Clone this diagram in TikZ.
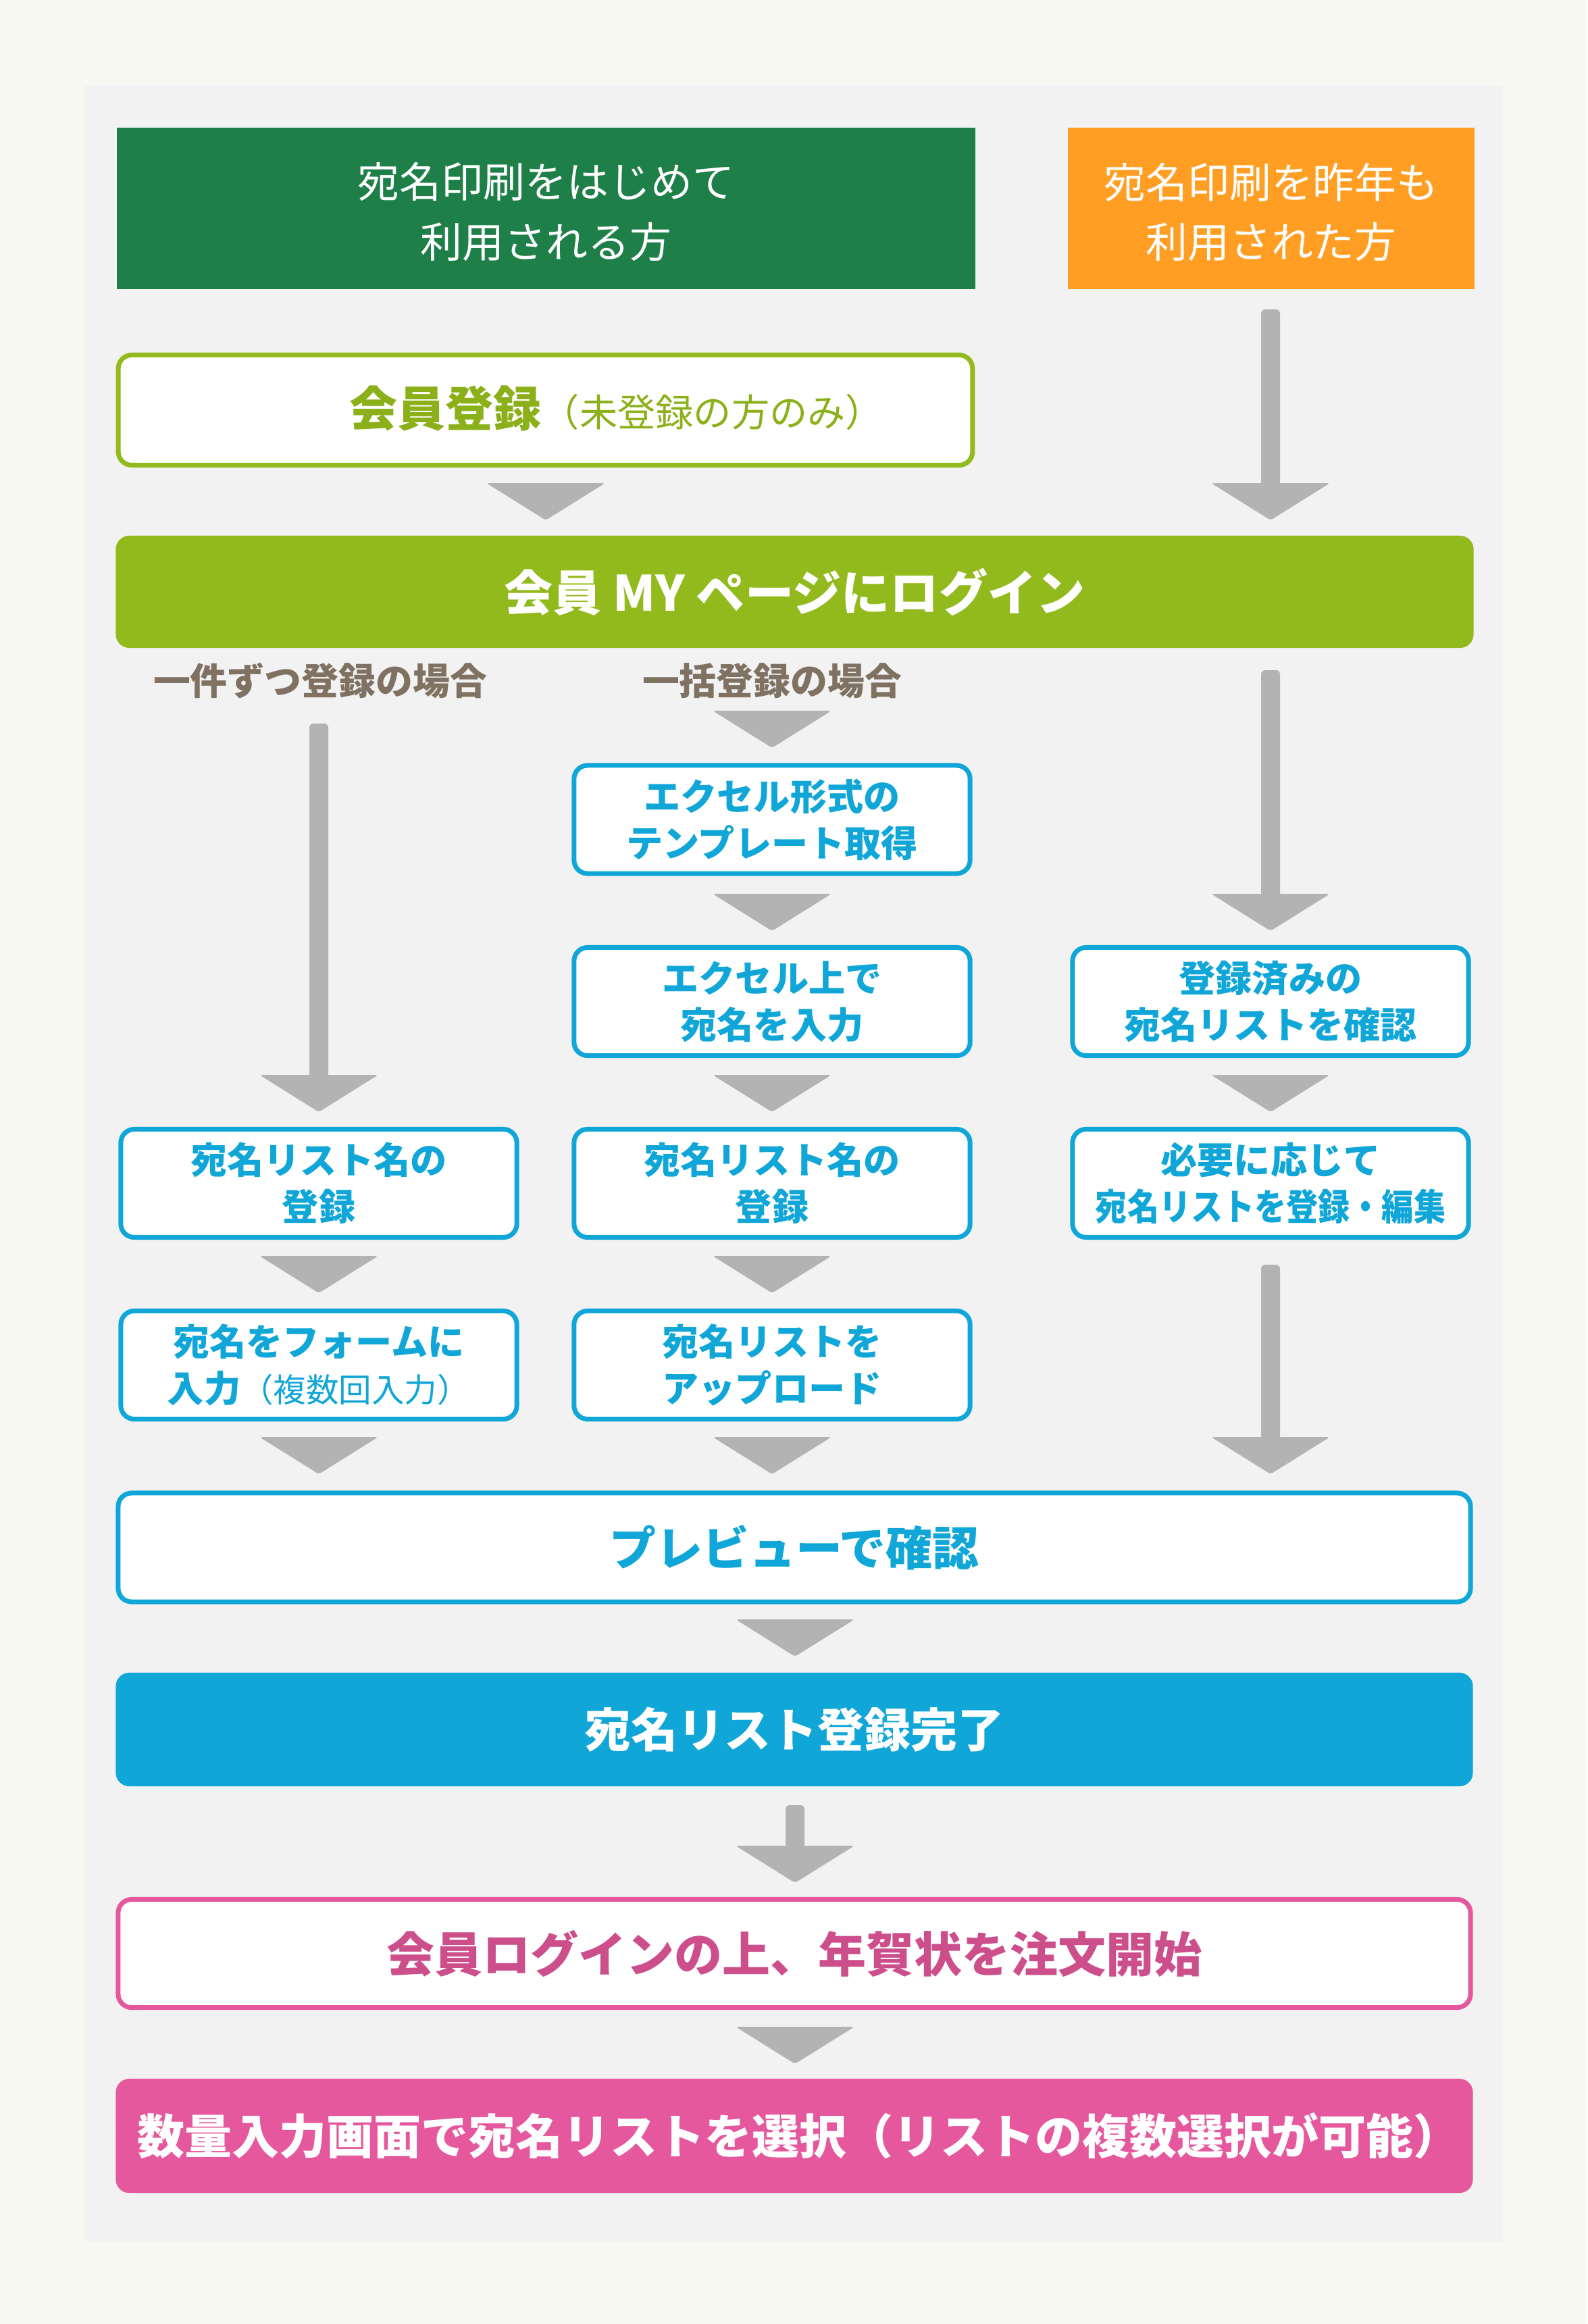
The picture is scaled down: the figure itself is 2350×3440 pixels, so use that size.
\documentclass[tikz,border=0pt]{standalone}
\usepackage{fontspec}
\usepackage{graphicx}
\setmainfont{Noto Sans CJK JP}[BoldFont={Noto Sans CJK JP Black}]
\definecolor{bgcream}{HTML}{F8F8F2}
\definecolor{panelgray}{HTML}{F2F2F2}
\definecolor{darkgreen}{HTML}{1E8048}
\definecolor{orangef}{HTML}{FF9E22}
\definecolor{lime}{HTML}{93BA1C}
\definecolor{limetxt}{HTML}{8CB01A}
\definecolor{brownlab}{HTML}{7F7262}
\definecolor{ablue}{HTML}{10A6D8}
\definecolor{pinkf}{HTML}{E5589D}
\definecolor{pinktxt}{HTML}{CC4F8B}
\definecolor{arrowgray}{HTML}{B3B3B3}
\tikzset{
  pics/tri/.style={code={\fill[arrowgray, rounded corners=0.04cm] (-88,0) -- (88,0) -- (0,55) -- cycle;}},
  pics/shafttri/.style={code={%
    \fill[arrowgray, rounded corners=0.06cm] (-14,-#1) rectangle (14,4);
    \fill[arrowgray, rounded corners=0.04cm] (-88,0) -- (88,0) -- (0,55) -- cycle;}},
  topbox/.style={draw=none, fill=#1, minimum width=12.71cm, minimum height=2.39cm, inner sep=0pt,
    text=white, align=center, font=\fontsize{17.6}{25.3}\selectfont},
  obox/.style={draw=#1, line width=0.07cm, fill=white, rounded corners=0.2cm, inner sep=0pt},
  fbox/.style={draw=none, fill=#1, rounded corners=0.2cm, inner sep=0pt, text=white},
  colbox/.style={obox=ablue, minimum width=5.86cm, minimum height=1.60cm, text=ablue, align=center,
    font=\bfseries\fontsize{15.4}{19.6}\selectfont},
  widebox/.style={minimum width=20.01cm, minimum height=1.61cm},
  lab/.style={text=brownlab, font=\bfseries\fontsize{15.6}{18}\selectfont, inner sep=0pt}
}
\begin{document}
\begin{tikzpicture}[x=0.01cm,y=-0.01cm]
\fill[bgcream] (0,0) rectangle (2350,3440);
\useasboundingbox (0,0) rectangle (2350,3440);
\fill[panelgray] (125,127) rectangle (2225,3318);

% top boxes
\node[topbox=darkgreen] (first) at (808.5,308.5) {};
\node[text=white, align=center, font=\fontsize{17.6}{25.3}\selectfont] (firsttxt) at (808.5,314) {宛名印刷をはじめて\\利用される方};
\node[topbox=orangef, minimum width=6.02cm] (repeat) at (1882,308.5) {};
\node[text=white, align=center, font=\fontsize{17.6}{25.3}\selectfont] (repeattxt) at (1882,314) {宛名印刷を昨年も\\利用された方};

% membership registration
\node[obox=lime, minimum width=12.64cm, minimum height=1.63cm] (reg) at (807.5,607) {};
\node[anchor=west, inner sep=0pt, text=limetxt] (regtxt) at (517,605)
  {{\bfseries\fontsize{20.2}{24}\selectfont 会員登録}{\fontsize{16}{20}\selectfont （未登録の方のみ）}};

\pic at (808,715) {tri};
\pic at (1881,715) {shafttri=257};

% login bar
\node[fbox=lime, minimum width=20.09cm, minimum height=1.66cm,
  font=\bfseries\fontsize{20.5}{24}\selectfont] (login) at (1176.5,876) {会員 MY ページにログイン};

% section labels
\node[lab] (lab1) at (474,1008) {一件ずつ登録の場合};
\node[lab] (lab2) at (1143,1008) {一括登録の場合};

% column arrows row 0
\pic at (1143,1052) {tri};
\pic at (472,1591) {shafttri=520};
\pic at (1881,1323) {shafttri=331};

% middle column
\node[colbox] (m1) at (1143,1213) {エクセル形式の\\テンプレート取得};
\pic at (1143,1323) {tri};
\node[colbox] (m2) at (1143,1482.5) {エクセル上で\\宛名を入力};
\pic at (1143,1591) {tri};
\node[colbox] (m3) at (1143,1751.5) {宛名リスト名の\\登録};
\pic at (1143,1859) {tri};
\node[colbox] (m4) at (1143,2020.5) {宛名リストを\\アップロード};
\pic at (1143,2127) {tri};

% right column
\node[colbox] (r2) at (1881,1482.5) {登録済みの\\宛名リストを確認};
\pic at (1881,1591) {tri};
\node[colbox] (r3) at (1881,1751.5) {必要に応じて\\\scalebox{0.87}[1]{宛名リストを登録・編集}};
\pic at (1881,2127) {shafttri=255};

% left column
\node[colbox] (l3) at (472,1751.5) {宛名リスト名の\\登録};
\pic at (472,1859) {tri};
\node[colbox] (l4) at (472,2020.5) {宛名をフォームに\\入力{\mdseries\fontsize{13.8}{19.6}\selectfont （複数回入力）}};
\pic at (472,2127) {tri};

% preview
\node[obox=ablue, widebox, text=ablue, font=\bfseries\fontsize{19.6}{24}\selectfont] (prev) at (1176,2290.5) {プレビューで確認};
\pic at (1177,2397) {tri};
\node[fbox=ablue, minimum width=20.08cm, minimum height=1.68cm, font=\bfseries\fontsize{19.6}{24}\selectfont] (done) at (1176,2560) {宛名リスト登録完了};
\pic at (1177,2732) {shafttri=60};
\node[obox=pinkf, widebox, minimum height=1.60cm, text=pinktxt, font=\bfseries\fontsize{20.2}{24}\selectfont] (order) at (1176,2891.5) {会員ログインの上、年賀状を注文開始};
\pic at (1177,3000) {tri};
\node[fbox=pinkf, minimum width=20.08cm, minimum height=1.69cm] (select) at (1176,3161.5) {};
\node[text=white, inner sep=0pt, font=\bfseries\fontsize{19.9}{24}\selectfont] (selecttxt) at (1183,3161.5) {数量入力画面で宛名リストを選択（リストの複数選択が可能）};
\end{tikzpicture}
\end{document}
